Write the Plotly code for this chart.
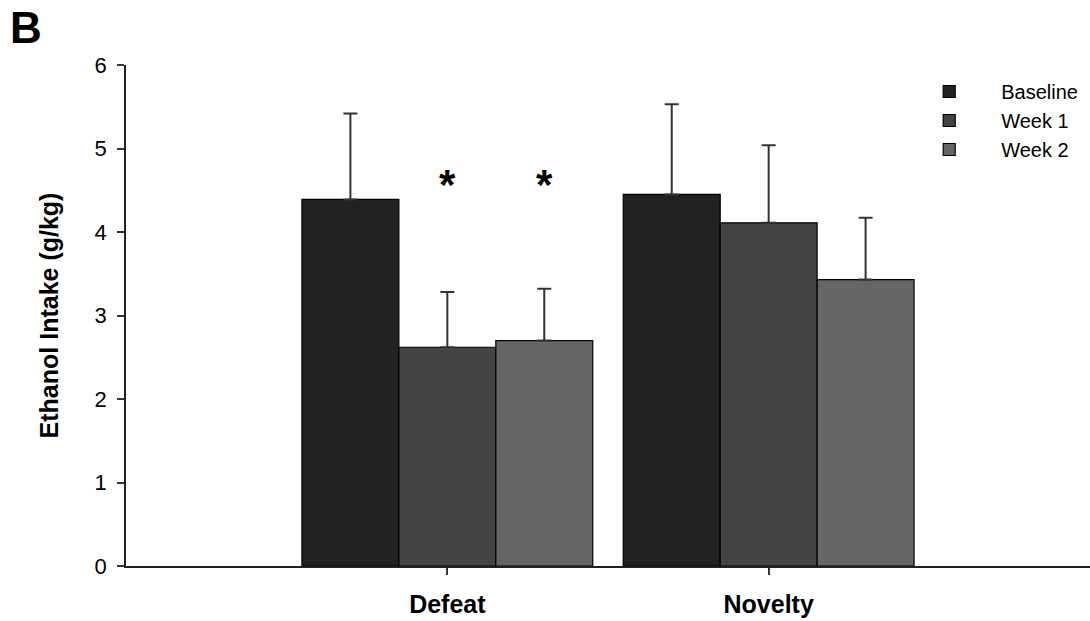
import plotly.graph_objects as go

categories = ["Defeat", "Novelty"]
series_names = ["Baseline", "Week 1", "Week 2"]
baseline = [4.39, 4.45]
week1 = [2.62, 4.11]
week2 = [2.70, 3.43]
baseline_err = [1.03, 1.08]
week1_err = [0.66, 0.93]
week2_err = [0.62, 0.74]
colors = ["#222222", "#444444", "#666666"]
# significance markers: (category index, series index, y value)
sig_marks = [(0, 1, 4.57), (0, 2, 4.57)]

values = [baseline, week1, week2]
errors = [baseline_err, week1_err, week2_err]

FONT = "Liberation Sans, Arial, sans-serif"
bargap = 0.095

fig = go.Figure()
for name, vals, errs, col in zip(series_names, values, errors, colors):
    fig.add_trace(go.Bar(
        x=categories, y=vals, name=name,
        marker=dict(color=col, line=dict(color="#000000", width=1.2)),
        error_y=dict(type="data", array=errs, symmetric=False, arrayminus=[0] * len(errs),
                     color="#333333", thickness=2, width=7),
    ))

bar_w = (1 - bargap) / 3
for ci, si, yv in sig_marks:
    fig.add_annotation(x=ci + (si - 1) * bar_w, y=yv, xref="x", yref="y",
                       text="<b>*</b>", showarrow=False,
                       font=dict(family=FONT, size=42, color="#000000"),
                       yanchor="middle")

fig.add_annotation(x=0, y=1, xref="paper", yref="paper", xanchor="left", yanchor="top",
                   xshift=-126 + 8, yshift=65 - 1,
                   text="<b>B</b>", showarrow=False,
                   font=dict(family=FONT, size=44, color="#000000"))

fig.update_layout(
    width=1090, height=621,
    margin=dict(l=126, r=0, t=65, b=55),
    paper_bgcolor="white", plot_bgcolor="white",
    barmode="group", bargap=bargap, bargroupgap=0,
    font=dict(family=FONT, color="#000000"),
    showlegend=True,
    legend=dict(x=0.8, y=0.986, xanchor="left", yanchor="top",
                font=dict(family=FONT, size=20, color="#000000"),
                bgcolor="rgba(0,0,0,0)", itemwidth=94, tracegroupgap=0),
    xaxis=dict(range=[-1, 2], showline=True, linecolor="#222222", linewidth=1.5,
               ticks="outside", ticklen=7, tickwidth=1.5, tickcolor="#333333",
               ticklabelstandoff=8,
               tickfont=dict(family=FONT, size=25, color="#000000", weight="bold"),
               showgrid=False, zeroline=False),
    yaxis=dict(range=[0, 6], showline=True, linecolor="#222222", linewidth=1.5,
               ticks="outside", ticklen=7, tickwidth=1.5, tickcolor="#333333",
               ticklabelstandoff=6,
               tickvals=[0, 1, 2, 3, 4, 5, 6],
               tickfont=dict(family=FONT, size=22, color="#000000"),
               title=dict(text="Ethanol Intake (g/kg)",
                          font=dict(family=FONT, size=25, color="#000000", weight="bold"),
                          standoff=29),
               showgrid=False, zeroline=False),
)

fig.write_html("out.html")
